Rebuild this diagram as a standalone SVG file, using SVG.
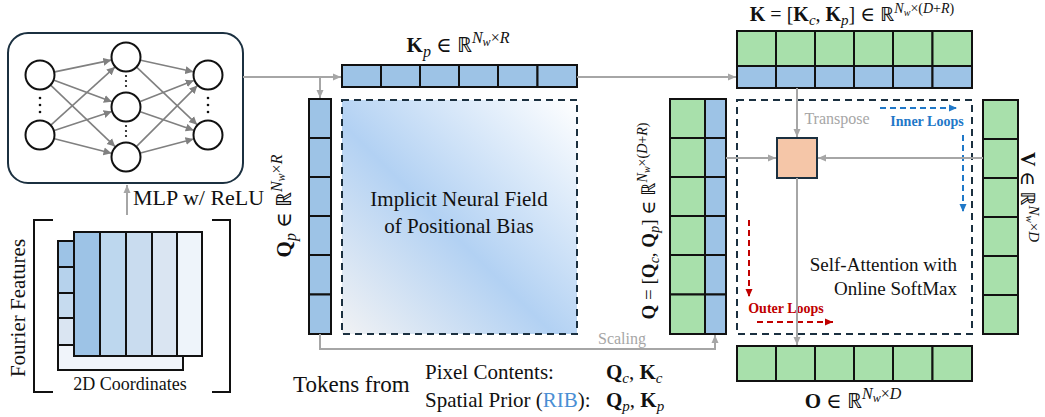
<svg xmlns="http://www.w3.org/2000/svg" width="1045" height="417" viewBox="0 0 1045 417">
<style>
.ser{font-family:"Liberation Serif","Tinos","Times New Roman","Noto Serif","DejaVu Serif","FreeSerif",serif;fill:#111}
.cellb{fill:#9dc3e6;stroke:#111;stroke-width:2}
.cellg{fill:#a8e0ab;stroke:#111;stroke-width:2}
.node{fill:#fff;stroke:#111;stroke-width:2}
.nn{stroke:#808080;stroke-width:1.6;fill:none;marker-end:url(#ah)}
.conn{stroke:#a6a6a6;stroke-width:2;fill:none;marker-end:url(#ahg)}
.dash{fill:none;stroke:#1b3040;stroke-width:2;stroke-dasharray:7,5}
.dot{fill:#111}
</style>
<defs>
<marker id="ah" markerWidth="9" markerHeight="9" refX="8" refY="4.5" orient="auto" markerUnits="userSpaceOnUse"><path d="M0,0.5 L8,4.5 L0,8.5 Z" fill="#808080"/></marker>
<marker id="ahg" markerWidth="9" markerHeight="9" refX="8" refY="4.5" orient="auto" markerUnits="userSpaceOnUse"><path d="M0,1 L8,4.5 L0,8 Z" fill="#a6a6a6"/></marker>
<marker id="ahb" markerWidth="9" markerHeight="9" refX="8" refY="4.5" orient="auto" markerUnits="userSpaceOnUse"><path d="M0,1 L8,4.5 L0,8 Z" fill="#1f78c8"/></marker>
<marker id="ahr" markerWidth="9" markerHeight="9" refX="8" refY="4.5" orient="auto" markerUnits="userSpaceOnUse"><path d="M0,1 L8,4.5 L0,8 Z" fill="#c00000"/></marker>
<linearGradient id="field" x1="0" y1="1" x2="1" y2="0">
<stop offset="0" stop-color="#f1f2f4"/>
<stop offset="0.45" stop-color="#b2d1f3"/>
<stop offset="1" stop-color="#ffffff"/>
</linearGradient>
</defs>

<g id="mlp">
<rect x="8" y="33" width="235" height="150" rx="20" fill="#fff" stroke="#1b3040" stroke-width="2"/>
<path class="nn" d="M54.7,71.9 L111.3,60.1"/>
<path class="nn" d="M54.1,80.2 L111.9,101.8"/>
<path class="nn" d="M50.9,85.4 L115.1,146.6"/>
<path class="nn" d="M51.1,124.9 L114.9,67.1"/>
<path class="nn" d="M54.3,130.4 L111.7,111.6"/>
<path class="nn" d="M54.5,138.7 L111.5,153.3"/>
<path class="nn" d="M140.7,60.2 L193.3,71.8"/>
<path class="nn" d="M136.9,67.3 L197.1,124.7"/>
<path class="nn" d="M140.3,101.6 L193.7,80.4"/>
<path class="nn" d="M140.3,111.8 L193.7,130.2"/>
<path class="nn" d="M136.6,146.4 L197.4,85.6"/>
<path class="nn" d="M140.5,153.1 L193.5,138.9"/>
<circle class="node" cx="40" cy="75" r="14.5"/>
<circle class="node" cx="40" cy="135" r="14.5"/>
<circle class="node" cx="126" cy="57" r="14.5"/>
<circle class="node" cx="126" cy="107" r="14.5"/>
<circle class="node" cx="126" cy="157" r="14.5"/>
<circle class="node" cx="208" cy="75" r="14.5"/>
<circle class="node" cx="208" cy="135" r="14.5"/>
<circle class="dot" cx="40" cy="98" r="1.3"/><circle class="dot" cx="40" cy="105" r="1.3"/><circle class="dot" cx="40" cy="112" r="1.3"/>
<circle class="dot" cx="208" cy="98" r="1.3"/><circle class="dot" cx="208" cy="105" r="1.3"/><circle class="dot" cx="208" cy="112" r="1.3"/>
<circle class="dot" cx="126" cy="76" r="1.1"/><circle class="dot" cx="126" cy="81" r="1.1"/><circle class="dot" cx="126" cy="86" r="1.1"/>
<circle class="dot" cx="126" cy="126" r="1.1"/><circle class="dot" cx="126" cy="131" r="1.1"/><circle class="dot" cx="126" cy="136" r="1.1"/>
</g>

<g id="fourier">
<path d="M53,220 H34 V392 H53" fill="none" stroke="#111" stroke-width="2"/>
<path d="M212,220 H230 V392 H212" fill="none" stroke="#111" stroke-width="2"/>
<rect x="58" y="241" width="125" height="129" fill="#f0f4fa" stroke="#111" stroke-width="2"/>
<rect x="58" y="241" width="16" height="26" fill="#9dc3e6" stroke="#111" stroke-width="2"/>
<rect x="58" y="267" width="16" height="26" fill="#b6d2ec" stroke="#111" stroke-width="2"/>
<rect x="58" y="293" width="16" height="25" fill="#c6dbef" stroke="#111" stroke-width="2"/>
<rect x="58" y="318" width="16" height="27" fill="#dae5f2" stroke="#111" stroke-width="2"/>
<rect x="74" y="232" width="26" height="124" fill="#9dc3e6" stroke="#111" stroke-width="2"/>
<rect x="100" y="232" width="26" height="124" fill="#bdd7ee" stroke="#111" stroke-width="2"/>
<rect x="126" y="232" width="26" height="124" fill="#c9dcef" stroke="#111" stroke-width="2"/>
<rect x="152" y="232" width="25" height="124" fill="#dae5f2" stroke="#111" stroke-width="2"/>
<rect x="177" y="232" width="25" height="124" fill="#eef4fa" stroke="#111" stroke-width="2"/>
<text class="ser" x="130" y="390" font-size="18" text-anchor="middle">2D Coordinates</text>
<text class="ser" transform="translate(25,308) rotate(-90)" font-size="21" text-anchor="middle">Fourier Features</text>
<text class="ser" x="133" y="205" font-size="22">MLP w/ ReLU</text>
</g>

<g id="kp">
<rect class="cellb" x="342" y="65" width="39" height="22"/>
<rect class="cellb" x="381" y="65" width="39" height="22"/>
<rect class="cellb" x="420" y="65" width="39" height="22"/>
<rect class="cellb" x="459" y="65" width="39" height="22"/>
<rect class="cellb" x="498" y="65" width="39.5" height="22"/>
<rect class="cellb" x="537.5" y="65" width="39.5" height="22"/>
<text class="ser" x="458" y="52" font-size="21" text-anchor="middle"><tspan font-weight="bold">K</tspan><tspan font-style="italic" font-size="16" dy="5">p</tspan><tspan dy="-5"> ∈ ℝ</tspan><tspan font-size="16" font-style="italic" dy="-9">N</tspan><tspan font-size="12" font-style="italic" dy="3">w</tspan><tspan font-size="16" dy="-3">×</tspan><tspan font-size="16" font-style="italic">R</tspan></text>
</g>

<g id="qp">
<rect class="cellb" x="309" y="99" width="22" height="39"/>
<rect class="cellb" x="309" y="138" width="22" height="39"/>
<rect class="cellb" x="309" y="177" width="22" height="39"/>
<rect class="cellb" x="309" y="216" width="22" height="39"/>
<rect class="cellb" x="309" y="255" width="22" height="39.5"/>
<rect class="cellb" x="309" y="294.5" width="22" height="39.5"/>
<text class="ser" transform="translate(291,206) rotate(-90)" font-size="21" text-anchor="middle"><tspan font-weight="bold">Q</tspan><tspan font-style="italic" font-size="16" dy="5">p</tspan><tspan dy="-5"> ∈ ℝ</tspan><tspan font-size="16" font-style="italic" dy="-9">N</tspan><tspan font-size="12" font-style="italic" dy="3">w</tspan><tspan font-size="16" dy="-3">×</tspan><tspan font-size="16" font-style="italic">R</tspan></text>
</g>

<g id="field-node">
<rect x="342" y="100" width="235" height="234" fill="url(#field)"/>
<rect class="dash" x="342" y="100" width="235" height="234"/>
<text class="ser" x="459" y="206" font-size="21" text-anchor="middle">Implicit Neural Field</text>
<text class="ser" x="459" y="233" font-size="21" text-anchor="middle">of Positional Bias</text>
</g>

<g id="q">
<rect class="cellg" x="670" y="99" width="35" height="39"/>
<rect class="cellg" x="670" y="138" width="35" height="39"/>
<rect class="cellg" x="670" y="177" width="35" height="39"/>
<rect class="cellg" x="670" y="216" width="35" height="39"/>
<rect class="cellg" x="670" y="255" width="35" height="39.5"/>
<rect class="cellg" x="670" y="294.5" width="35" height="39.5"/>
<rect class="cellb" x="705" y="99" width="21" height="39"/>
<rect class="cellb" x="705" y="138" width="21" height="39"/>
<rect class="cellb" x="705" y="177" width="21" height="39"/>
<rect class="cellb" x="705" y="216" width="21" height="39"/>
<rect class="cellb" x="705" y="255" width="21" height="39.5"/>
<rect class="cellb" x="705" y="294.5" width="21" height="39.5"/>
<text class="ser" transform="translate(655,221) rotate(-90)" font-size="19" text-anchor="middle"><tspan font-weight="bold">Q</tspan> = [<tspan font-weight="bold">Q</tspan><tspan font-style="italic" font-size="14" dy="4">c</tspan><tspan dy="-4">, </tspan><tspan font-weight="bold">Q</tspan><tspan font-style="italic" font-size="14" dy="4">p</tspan><tspan dy="-4">] ∈ ℝ</tspan><tspan font-size="14" font-style="italic" dy="-8">N</tspan><tspan font-size="10" font-style="italic" dy="3">w</tspan><tspan font-size="14" dy="-3">×(</tspan><tspan font-size="14" font-style="italic">D</tspan><tspan font-size="14">+</tspan><tspan font-size="14" font-style="italic">R</tspan><tspan font-size="14">)</tspan></text>
</g>

<g id="k">
<rect class="cellg" x="737" y="31" width="39" height="35"/>
<rect class="cellg" x="776" y="31" width="39" height="35"/>
<rect class="cellg" x="815" y="31" width="39" height="35"/>
<rect class="cellg" x="854" y="31" width="39" height="35"/>
<rect class="cellg" x="893" y="31" width="39.5" height="35"/>
<rect class="cellg" x="932.5" y="31" width="39.5" height="35"/>
<rect class="cellb" x="737" y="66" width="39" height="22"/>
<rect class="cellb" x="776" y="66" width="39" height="22"/>
<rect class="cellb" x="815" y="66" width="39" height="22"/>
<rect class="cellb" x="854" y="66" width="39" height="22"/>
<rect class="cellb" x="893" y="66" width="39.5" height="22"/>
<rect class="cellb" x="932.5" y="66" width="39.5" height="22"/>
<text class="ser" x="852" y="21" font-size="20" text-anchor="middle"><tspan font-weight="bold">K</tspan> = [<tspan font-weight="bold">K</tspan><tspan font-style="italic" font-size="15" dy="4">c</tspan><tspan dy="-4">, </tspan><tspan font-weight="bold">K</tspan><tspan font-style="italic" font-size="15" dy="4">p</tspan><tspan dy="-4">] ∈ ℝ</tspan><tspan font-size="14" font-style="italic" dy="-8">N</tspan><tspan font-size="10" font-style="italic" dy="3">w</tspan><tspan font-size="14" dy="-3">×(</tspan><tspan font-size="14" font-style="italic">D</tspan><tspan font-size="14">+</tspan><tspan font-size="14" font-style="italic">R</tspan><tspan font-size="14">)</tspan></text>
</g>

<g id="v">
<rect class="cellg" x="983" y="100" width="35" height="39"/>
<rect class="cellg" x="983" y="139" width="35" height="39"/>
<rect class="cellg" x="983" y="178" width="35" height="39"/>
<rect class="cellg" x="983" y="217" width="35" height="39"/>
<rect class="cellg" x="983" y="256" width="35" height="39"/>
<rect class="cellg" x="983" y="295" width="35" height="39"/>
<text class="ser" transform="translate(1021,197) rotate(90)" font-size="20" text-anchor="middle"><tspan font-weight="bold">V</tspan> ∈ ℝ<tspan font-size="15" font-style="italic" dy="-8">N</tspan><tspan font-size="11" font-style="italic" dy="3">w</tspan><tspan font-size="15" dy="-3">×</tspan><tspan font-size="15" font-style="italic">D</tspan></text>
</g>

<g id="attention">
<rect class="dash" x="737" y="100" width="235" height="234"/>
<rect x="777" y="138" width="40" height="40" fill="#f5c6a8" stroke="#1b3040" stroke-width="2"/>
<text class="ser" x="837" y="124" font-size="16" style="fill:#a6a6a6" text-anchor="middle">Transpose</text>
<text class="ser" x="927" y="126" font-size="14" font-weight="bold" style="fill:#1f78c8" text-anchor="middle">Inner Loops</text>
<path d="M880,108 H957" stroke="#1f78c8" stroke-width="2" stroke-dasharray="6,4" fill="none" marker-end="url(#ahb)"/>
<path d="M963,135 V212" stroke="#1f78c8" stroke-width="2" stroke-dasharray="6,4" fill="none" marker-end="url(#ahb)"/>
<path d="M749,220 V297" stroke="#c00000" stroke-width="2" stroke-dasharray="6,4" fill="none" marker-end="url(#ahr)"/>
<path d="M757,322 H833" stroke="#c00000" stroke-width="2" stroke-dasharray="6,4" fill="none" marker-end="url(#ahr)"/>
<text class="ser" x="786" y="313" font-size="14" font-weight="bold" style="fill:#c00000" text-anchor="middle">Outer Loops</text>
<text class="ser" x="957" y="271" font-size="19" text-anchor="end">Self-Attention with</text>
<text class="ser" x="957" y="295" font-size="19" text-anchor="end">Online SoftMax</text>
</g>

<g id="o">
<rect class="cellg" x="737" y="346" width="39" height="35"/>
<rect class="cellg" x="776" y="346" width="39" height="35"/>
<rect class="cellg" x="815" y="346" width="39" height="35"/>
<rect class="cellg" x="854" y="346" width="39" height="35"/>
<rect class="cellg" x="893" y="346" width="39.5" height="35"/>
<rect class="cellg" x="932.5" y="346" width="39.5" height="35"/>
<text class="ser" x="853" y="408" font-size="21" text-anchor="middle"><tspan font-weight="bold">O</tspan> ∈ ℝ<tspan font-size="16" font-style="italic" dy="-9">N</tspan><tspan font-size="12" font-style="italic" dy="3">w</tspan><tspan font-size="16" dy="-3">×</tspan><tspan font-size="16" font-style="italic">D</tspan></text>
</g>

<g id="legend">
<text class="ser" x="293" y="392" font-size="23">Tokens from</text>
<text class="ser" x="425" y="379" font-size="21">Pixel Contents:</text>
<text class="ser" x="425" y="407" font-size="21">Spatial Prior (<tspan style="fill:#4a8fd4">RIB</tspan>):</text>
<text class="ser" x="606" y="379" font-size="21"><tspan font-weight="bold">Q</tspan><tspan font-style="italic" font-size="15" dy="4">c</tspan><tspan dy="-4">, </tspan><tspan font-weight="bold">K</tspan><tspan font-style="italic" font-size="15" dy="4">c</tspan></text>
<text class="ser" x="606" y="407" font-size="21"><tspan font-weight="bold">Q</tspan><tspan font-style="italic" font-size="15" dy="4">p</tspan><tspan dy="-4">, </tspan><tspan font-weight="bold">K</tspan><tspan font-style="italic" font-size="15" dy="4">p</tspan></text>
</g>

<g id="connectors">
<path class="conn" d="M127,215 V185"/>
<path class="conn" d="M243,77 H341"/>
<path class="conn" d="M320,77 V98"/>
<path class="conn" d="M577,77 H736"/>
<path class="conn" d="M320,334 V349 H715 V335"/>
<path class="conn" d="M797,88 V137"/>
<path class="conn" d="M797,178 V345"/>
<path class="conn" d="M726,158 H776"/>
<path class="conn" d="M983,158 H818"/>
<text class="ser" x="622" y="344" font-size="16" style="fill:#a6a6a6" text-anchor="middle">Scaling</text>
</g>
</svg>
